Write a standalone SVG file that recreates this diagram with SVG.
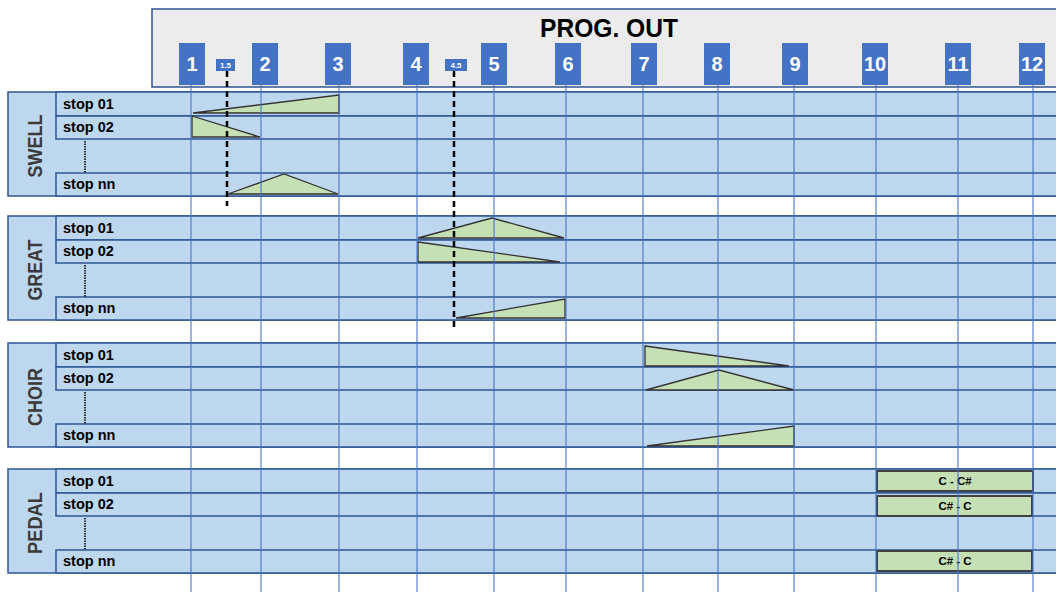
<svg xmlns="http://www.w3.org/2000/svg" width="1056" height="592" viewBox="0 0 1056 592">
<style>
.bg{fill:#bdd7ee;stroke:#2f5597;stroke-width:1.5}
.row{fill:#bdd7ee;stroke:#2f5597;stroke-width:1.5}
.lbl{font-family:"Liberation Sans",Arial,sans-serif;font-weight:bold;font-size:14.5px;fill:#000}
.sec{font-family:"Liberation Sans",Arial,sans-serif;font-weight:bold;font-size:21px;fill:#3a3a3a;text-anchor:middle}
.dot{stroke:#000;stroke-width:1.5;stroke-dasharray:1.5 1}
.tri{fill:#c5e0b4;stroke:#333;stroke-width:1.3;stroke-linejoin:miter}
.box{fill:#c5e0b4;stroke:#404040;stroke-width:2}
.btxt{font-family:"Liberation Sans",Arial,sans-serif;font-weight:bold;font-size:11.5px;fill:#000;text-anchor:middle}
.nb{fill:#4472c4}
.nt{font-family:"Liberation Sans",Arial,sans-serif;font-weight:bold;font-size:20px;fill:#fff;text-anchor:middle}
.sb{fill:#4472c4}
.st{font-family:"Liberation Sans",Arial,sans-serif;font-weight:bold;font-size:8px;fill:#fff;text-anchor:middle}
.grid{stroke:#4472c4;stroke-width:1.4;opacity:0.75}
.dash{stroke:#000;stroke-width:2.5;stroke-dasharray:6 4}
</style>
<defs>
<g id="sectionBody">
<rect class="bg" x="8" y="0" width="1060" height="104"/>
<rect class="row" x="56" y="0" width="1012" height="24"/>
<rect class="row" x="56" y="24" width="1012" height="23"/>
<rect class="row" x="56" y="81" width="1012" height="23"/>
<line class="dot" x1="85" y1="49" x2="85" y2="81"/>
<text class="lbl" x="63" y="16.5">stop 01</text>
<text class="lbl" x="63" y="40">stop 02</text>
<text class="lbl" x="63" y="97">stop nn</text>
</g>
</defs>

<g id="header">
<rect x="152" y="9" width="920" height="78" fill="#ececec" stroke="#2f5597" stroke-width="1.5"/>
<text x="609" y="37" text-anchor="middle" font-family="'Liberation Sans',Arial,sans-serif" font-weight="bold" font-size="25" fill="#000" textLength="138" lengthAdjust="spacingAndGlyphs">PROG. OUT</text>
</g>

<g id="swell" transform="translate(0,92)">
<use href="#sectionBody"/>
<text class="sec" transform="translate(42,54) rotate(-90)" textLength="63" lengthAdjust="spacingAndGlyphs">SWELL</text>
</g>
<g id="great" transform="translate(0,216)">
<use href="#sectionBody"/>
<text class="sec" transform="translate(42,54) rotate(-90)" textLength="61" lengthAdjust="spacingAndGlyphs">GREAT</text>
</g>
<g id="choir" transform="translate(0,343)">
<use href="#sectionBody"/>
<text class="sec" transform="translate(42,54) rotate(-90)" textLength="58" lengthAdjust="spacingAndGlyphs">CHOIR</text>
</g>
<g id="pedal" transform="translate(0,469)">
<use href="#sectionBody"/>
<text class="sec" transform="translate(42,54) rotate(-90)" textLength="62" lengthAdjust="spacingAndGlyphs">PEDAL</text>
</g>

<g id="envelopes">
<polygon class="tri" points="193,113 339,95 339,113"/>
<polygon class="tri" points="192,116 260,137 192,137"/>
<polygon class="tri" points="228,194 284,174 338,194"/>
<polygon class="tri" points="418,238 492,218 564,238"/>
<polygon class="tri" points="418,242 560,262 418,262"/>
<polygon class="tri" points="456,318 565,299 565,318"/>
<polygon class="tri" points="645,346 789,366 645,366"/>
<polygon class="tri" points="646,390 719,370 794,390"/>
<polygon class="tri" points="647,446 794,426 794,446"/>
</g>

<g id="pedal-notes">
<rect class="box" x="877" y="471" width="156" height="20"/>
<text class="btxt" x="955" y="485">C - C#</text>
<rect class="box" x="877" y="496" width="155" height="20"/>
<text class="btxt" x="955" y="510">C# - C</text>
<rect class="box" x="877" y="551" width="155" height="20"/>
<text class="btxt" x="955" y="565">C# - C</text>
</g>

<g id="connectors">
<line class="grid" x1="191" y1="85" x2="191" y2="592"/>
<line class="grid" x1="261" y1="85" x2="261" y2="592"/>
<line class="grid" x1="339" y1="85" x2="339" y2="592"/>
<line class="grid" x1="417" y1="85" x2="417" y2="592"/>
<line class="grid" x1="494" y1="85" x2="494" y2="592"/>
<line class="grid" x1="566" y1="85" x2="566" y2="592"/>
<line class="grid" x1="643" y1="85" x2="643" y2="592"/>
<line class="grid" x1="718" y1="85" x2="718" y2="592"/>
<line class="grid" x1="794" y1="85" x2="794" y2="592"/>
<line class="grid" x1="876" y1="85" x2="876" y2="592"/>
<line class="grid" x1="958" y1="85" x2="958" y2="592"/>
<line class="grid" x1="1033" y1="85" x2="1033" y2="592"/>
<line class="dash" x1="227" y1="71" x2="227" y2="206"/>
<line class="dash" x1="454" y1="71" x2="454" y2="331"/>
</g>

<g id="outputs">
<rect class="nb" x="179" y="43" width="26" height="42"/><text class="nt" x="192" y="71">1</text>
<rect class="nb" x="252" y="43" width="26" height="42"/><text class="nt" x="265" y="71">2</text>
<rect class="nb" x="325" y="43" width="26" height="42"/><text class="nt" x="338" y="71">3</text>
<rect class="nb" x="403" y="43" width="26" height="42"/><text class="nt" x="416" y="71">4</text>
<rect class="nb" x="481" y="43" width="26" height="42"/><text class="nt" x="494" y="71">5</text>
<rect class="nb" x="555" y="43" width="26" height="42"/><text class="nt" x="568" y="71">6</text>
<rect class="nb" x="631" y="43" width="26" height="42"/><text class="nt" x="644" y="71">7</text>
<rect class="nb" x="704" y="43" width="26" height="42"/><text class="nt" x="717" y="71">8</text>
<rect class="nb" x="782" y="43" width="26" height="42"/><text class="nt" x="795" y="71">9</text>
<rect class="nb" x="862" y="43" width="26" height="42"/><text class="nt" x="875" y="71">10</text>
<rect class="nb" x="945" y="43" width="26" height="42"/><text class="nt" x="958" y="71">11</text>
<rect class="nb" x="1019" y="43" width="26" height="42"/><text class="nt" x="1032" y="71">12</text>
<rect class="sb" x="216" y="59" width="19" height="12"/><text class="st" x="225.5" y="68">1.5</text>
<rect class="sb" x="445" y="59" width="22" height="12"/><text class="st" x="456" y="68">4.5</text>
</g>
</svg>
